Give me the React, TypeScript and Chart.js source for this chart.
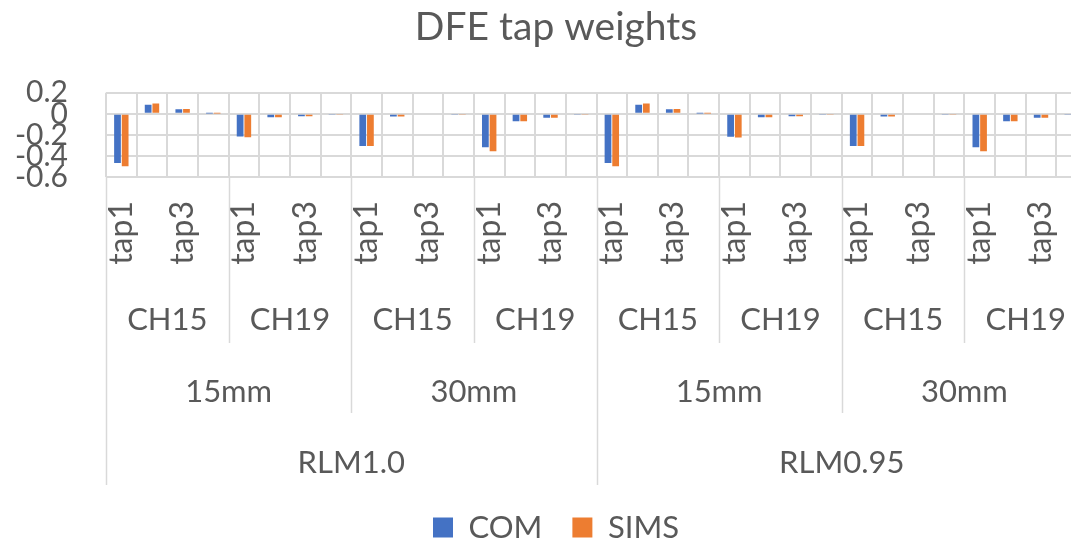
import React, { useEffect, useRef } from 'react';
import { Chart, registerables } from 'chart.js';

Chart.register(...registerables);

// ---- data ----
const rlmGroups = ['RLM1.0', 'RLM0.95'];
const lengthGroups = ['15mm', '30mm'];
const channelGroups = ['CH15', 'CH19'];
const taps = ['tap1', 'tap2', 'tap3', 'tap4'];

const comValues = [
  -0.467, 0.086, 0.044, 0.003, -0.216, -0.032, -0.023, -0.005,
  -0.305, -0.026, 0.0, -0.012, -0.318, -0.07, -0.038, -0.006,
  -0.467, 0.086, 0.044, 0.003, -0.218, -0.032, -0.023, -0.006,
  -0.305, -0.026, 0.0, -0.012, -0.318, -0.07, -0.038, -0.006,
];
const simsValues = [
  -0.499, 0.098, 0.045, 0.003, -0.222, -0.032, -0.023, -0.005,
  -0.306, -0.026, 0.0, -0.012, -0.356, -0.07, -0.038, -0.006,
  -0.499, 0.098, 0.045, 0.003, -0.224, -0.032, -0.023, -0.006,
  -0.306, -0.026, 0.0, -0.012, -0.356, -0.07, -0.038, -0.006,
];
const yTicks = [0.2, 0, -0.2, -0.4, -0.6];

// category labels (tap names) built from the groups
const categoryLabels: string[] = [];
rlmGroups.forEach(() =>
  lengthGroups.forEach(() =>
    channelGroups.forEach(() => taps.forEach((t) => categoryLabels.push(t)))
  )
);

const TEXT = '#595959';
const GRID = '#d9d9d9';
const FONT = 'Lato';
const CANVAS_W = 1112;
const CANVAS_H = 543;
const LEGEND_H = 61;

const groupLabelsPlugin = {
  id: 'groupLabels',
  afterDraw(chart: any) {
    const xs = chart.scales.x;
    const ctx = chart.ctx;
    const n = categoryLabels.length;
    const w = (xs.right - xs.left) / n;
    const edge = (i: number) => xs.getPixelForValue(i) - w / 2;
    const top = xs.top;
    const chSpan = taps.length;
    const mmSpan = chSpan * channelGroups.length;
    const rlmSpan = mmSpan * lengthGroups.length;

    ctx.save();
    ctx.strokeStyle = GRID;
    ctx.lineWidth = 1.5;
    for (let b = 0; b <= n; b += chSpan) {
      let bottom = top + 166;
      if (b % rlmSpan === 0) bottom = top + 308;
      else if (b % mmSpan === 0) bottom = top + 236;
      const x = Math.round(edge(b)) + 0.5;
      ctx.beginPath();
      ctx.moveTo(x, top);
      ctx.lineTo(x, bottom);
      ctx.stroke();
    }
    ctx.fillStyle = TEXT;
    ctx.font = `31px ${FONT}`;
    ctx.textAlign = 'center';
    ctx.textBaseline = 'middle';
    const levels = [
      { span: chSpan, names: (i: number) => channelGroups[i % channelGroups.length], y: 143 },
      { span: mmSpan, names: (i: number) => lengthGroups[i % lengthGroups.length], y: 215 },
      { span: rlmSpan, names: (i: number) => rlmGroups[i % rlmGroups.length], y: 286 },
    ];
    levels.forEach((lv) => {
      for (let g = 0; g * lv.span < n; g++) {
        const s = edge(g * lv.span);
        const e = s + w * lv.span;
        ctx.fillText(lv.names(g), (s + e) / 2, top + lv.y);
      }
    });
    ctx.restore();
  },
};

export default function App() {
  const ref = useRef<HTMLCanvasElement>(null);
  useEffect(() => {
    const chart = new Chart(ref.current as HTMLCanvasElement, {
      type: 'bar',
      data: {
        labels: categoryLabels,
        datasets: [
          {
            label: 'COM',
            data: comValues,
            backgroundColor: '#4472C4',
            categoryPercentage: 0.5,
            barPercentage: 0.88,
          },
          {
            label: 'SIMS',
            data: simsValues,
            backgroundColor: '#ED7D31',
            categoryPercentage: 0.5,
            barPercentage: 0.88,
          },
        ],
      },
      options: {
        responsive: false,
        animation: false,
        devicePixelRatio: 1,
        layout: { padding: 0 },
        plugins: {
          title: {
            display: true,
            text: 'DFE tap weights',
            color: TEXT,
            font: { family: FONT, size: 39, weight: 'normal' },
            padding: { top: 4, bottom: 42 },
          },
          legend: {
            position: 'bottom',
            maxHeight: LEGEND_H,
            labels: {
              color: TEXT,
              font: { family: FONT, size: 31 },
              boxWidth: 20,
              boxHeight: 20,
              padding: 30,
            },
          },
          tooltip: { enabled: false },
        },
        scales: {
          x: {
            grid: { color: GRID, lineWidth: 2, drawTicks: false, offset: true },
            border: { display: false },
            ticks: {
              autoSkip: false,
              minRotation: 90,
              maxRotation: 90,
              padding: 24,
              color: TEXT,
              font: { family: FONT, size: 32 },
              callback: function (this: any, value: any, index: number) {
                return index % 2 === 0 ? this.getLabelForValue(value) : '';
              },
            },
            afterFit(scale: any) {
              scale.height = CANVAS_H - LEGEND_H - 177;
              scale.paddingLeft = 0;
              scale.paddingRight = 25;
            },
          },
          y: {
            min: -0.6,
            max: 0.2,
            grid: { color: GRID, lineWidth: 2, drawTicks: false },
            border: { display: false },
            afterBuildTicks(scale: any) {
              scale.ticks = yTicks.map((v) => ({ value: v }));
            },
            ticks: {
              autoSkip: false,
              padding: 38,
              color: TEXT,
              font: { family: FONT, size: 30 },
              callback: (v: any) => String(Number(Number(v).toFixed(1))),
            },
            afterFit(scale: any) {
              scale.width = 106;
              scale.paddingTop = 0;
              scale.paddingBottom = 0;
            },
          },
        },
      },
      plugins: [groupLabelsPlugin],
    } as any);
    return () => chart.destroy();
  }, []);
  return (
    <div
      style={{
        position: 'fixed',
        left: 0,
        top: 0,
        width: 1071,
        height: 543,
        overflow: 'hidden',
        background: '#fff',
      }}
    >
      <canvas
        ref={ref}
        width={CANVAS_W}
        height={CANVAS_H}
        style={{ display: 'block', width: CANVAS_W, height: CANVAS_H }}
      />
    </div>
  );
}
